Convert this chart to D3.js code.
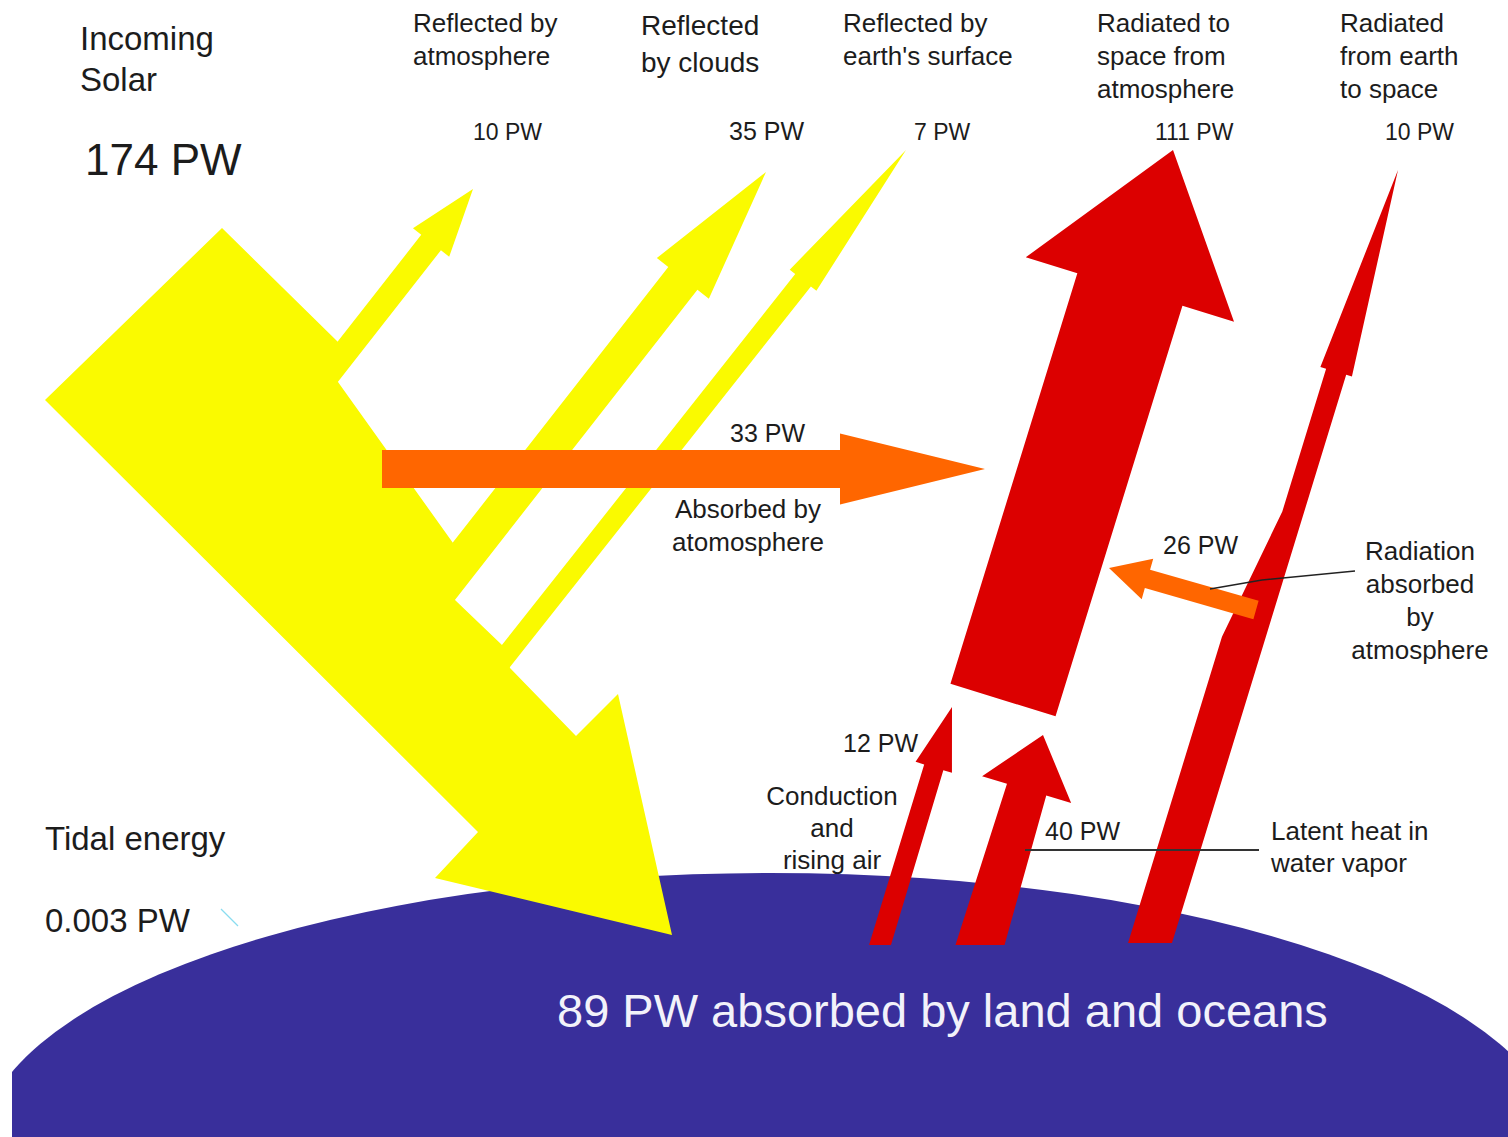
<!DOCTYPE html>
<html>
<head>
<meta charset="utf-8">
<script src="https://cdn.jsdelivr.net/npm/d3@7/dist/d3.min.js"></script>
<style>
html,body{margin:0;padding:0;background:#fff;}
svg{display:block;}
text{font-family:"Liberation Sans",Arial,Helvetica,sans-serif;fill:#1c1c1c;}
</style>
</head>
<body>
<div id="canvas"></div>
<script>
var width = 1508;
var height = 1137;

// energy flows (PW)
var flowKeys   = ["solar","reflAtm","reflCloud","reflSurf","absAtm","radAtm","radEarth","radAbs","conduction","latent","land","tidal"];
var flowValues = [174, 10, 35, 7, 33, 111, 10, 26, 12, 40, 89, 0.003];

// label texts
var titleLines   = ["Incoming","Solar"];
var headerKeys   = ["reflAtm","reflCloud","reflSurf","radAtm","radEarth"];
var headerLines  = [["Reflected by","atmosphere"],["Reflected","by clouds"],["Reflected by","earth's surface"],["Radiated to","space from","atmosphere"],["Radiated","from earth","to space"]];
var absAtmLines  = ["Absorbed by","atomosphere"];
var radAbsLines  = ["Radiation","absorbed","by","atmosphere"];
var condLines    = ["Conduction","and","rising air"];
var latentLines  = ["Latent heat in","water vapor"];
var tidalLabel   = "Tidal energy";
var landLabel    = "absorbed by land and oceans";

// ---- layout (drawing grid of the picture) ----
var sx = d3.scaleLinear().domain([0,1508]).range([0,width]);
var sy = d3.scaleLinear().domain([0,1137]).range([0,height]);

var kindColor = d3.scaleOrdinal()
	.domain(["shortwave","absorbed","longwave","earth"])
	.range(["#fafa00","#ff6600","#dc0000","#392f9b"]);

// earth disc
var earthCenter = [770,1150];
var earthRadius = [790,277];
var earthLeft = 12;

// incoming solar band outline
var solarBody = [[222,228],[338,342],[338,382],[453,543],[455,600],[502,645],[510,668],[576,736],[618,694],[672,935],[435,878],[478,832],[45,400]];

// arrows: tail centre, tip, shaft width, tail width, head width, head length
var arrowKeys  = ["reflAtm","reflCloud","reflSurf","absAtm","radAtm","radEarth","conduction","latent","radAbs"];
var arrowKind  = ["shortwave","shortwave","shortwave","absorbed","longwave","longwave","longwave","longwave","absorbed"];
var arrowTail  = [[307,401],[429,603],[491,675],[382,469],[1003,700],[1161,943],[880,945],[980,945],[1256,610]];
var arrowTip   = [[473,189],[766,172],[906,150],[985,469],[1173,150],[1398,170],[952,707],[1043,735],[1109,568]];
var arrowShaft = [25,37,20,38,110,21,20,41,19];
var arrowTailW = [25,37,20,38,110,42,21,47,19];
var arrowHeadW = [46,66,34,71,218,33,38,93,42];
var arrowHeadL = [68,135,166,145,146,211,63,57,40];
var arrowFlat  = [false,false,false,false,false,true,true,true,false];
// narrowing on one side only: [from, to, side]
var arrowNeck  = [null,null,null,null,null,[0.52,0.75,-1],null,null,null];

function arrowPoints(i){
	var T = arrowTail[i], P = arrowTip[i];
	var dx = P[0]-T[0], dy = P[1]-T[1];
	var len = Math.sqrt(dx*dx+dy*dy);
	var u = [dx/len, dy/len];
	var n = [-u[1], u[0]];
	var hl = arrowHeadL[i];
	var L = len - hl;
	var w = arrowShaft[i], wt = arrowTailW[i], nk = arrowNeck[i];
	function half(side, t){
		if(!nk) return (wt + (w-wt)*t)/2;
		if(side != nk[2]) return w/2;
		var wide = wt - w/2;
		if(t <= nk[0]) return wide;
		if(t >= nk[1]) return w/2;
		return wide + (w/2-wide)*(t-nk[0])/(nk[1]-nk[0]);
	}
	function at(t, side, h){
		return [T[0]+u[0]*L*t + side*n[0]*h, T[1]+u[1]*L*t + side*n[1]*h];
	}
	function tailCorner(side){
		var c = at(0, side, half(side,0));
		if(arrowFlat[i]){
			var s = (T[1]-c[1])/u[1];
			c = [c[0]+u[0]*s, c[1]+u[1]*s];
		}
		return c;
	}
	function edge(side){
		var pts = [tailCorner(side)];
		if(nk && side == nk[2]){
			pts.push(at(nk[0], side, half(side,nk[0])));
			pts.push(at(nk[1], side, half(side,nk[1])));
		}
		pts.push(at(1, side, half(side,1)));
		pts.push(at(1, side, arrowHeadW[i]/2));
		return pts;
	}
	return edge(-1).concat([P]).concat(edge(1).reverse());
}

// text positions
var titlePos = [80,50,41];                 // x, first baseline, line height
var solarValuePos = [85,175];
var headerPos = [[413,32],[641,35],[843,32],[1097,32],[1340,32]];
var headerSize = [26,28,26,26,26];
var headerLH = [33,37,33,33,33];
var topValueKeys = ["reflAtm","reflCloud","reflSurf","radAtm","radEarth"];
var topValueX = [473,729,914,1155,1385];
var topValueY = 140;
var midValueKeys = ["absAtm","radAbs","conduction","latent"];
var midValuePos = [[730,442],[1163,554],[843,752],[1045,840]];
var leaderRadAbs = [[1210,589],[1262,580],[1355,571]];
var leaderLatent = [[1025,850],[1259,850]];
var tidalMark = [[221,909],[238,926]];

function val(k){ return flowValues[flowKeys.indexOf(k)]; }
function pw(k){ return val(k) + " PW"; }

var svg = d3.select("#canvas").append("svg")
	.attr("width",width)
	.attr("height",height)
	.style("background","#fff");

var lineGen = d3.line().x(function(d){return sx(d[0]);}).y(function(d){return sy(d[1]);});
var shapeGen = d3.line().x(function(d){return sx(d[0]);}).y(function(d){return sy(d[1]);}).curve(d3.curveLinearClosed);

// earth
svg.append("clipPath").attr("id","earthClip")
	.append("rect")
	.attr("x",sx(earthLeft)).attr("y",0)
	.attr("width",width-sx(earthLeft)).attr("height",height);
svg.append("ellipse")
	.attr("clip-path","url(#earthClip)")
	.attr("cx",sx(earthCenter[0])).attr("cy",sy(earthCenter[1]))
	.attr("rx",sx(earthRadius[0])-sx(0)).attr("ry",sy(earthRadius[1])-sy(0))
	.style("fill",kindColor("earth"));

// incoming solar
svg.append("path")
	.attr("d",shapeGen(solarBody))
	.style("fill",kindColor("shortwave"));

// arrows, the 26 PW one last so it sits on top
var order = [0,1,2,3,4,5,6,7,8];
svg.selectAll("path.arrow")
	.data(order)
	.enter().append("path")
	.attr("class","arrow")
	.attr("d",function(i){return shapeGen(arrowPoints(i));})
	.style("fill",function(i){return kindColor(arrowKind[i]);});

// leader lines
svg.append("path").attr("d",lineGen(leaderRadAbs))
	.style("fill","none").style("stroke","#222").style("stroke-width",1.4);
svg.append("path").attr("d",lineGen(leaderLatent))
	.style("fill","none").style("stroke","#333").style("stroke-width",1.8);
svg.append("path").attr("d",lineGen(tidalMark))
	.style("fill","none").style("stroke","#8adcf0").style("stroke-width",1.2);

// text helpers
function block(lines, x, y, size, lh, anchor, fill){
	var t = svg.append("text")
		.attr("x",sx(x)).attr("y",sy(y))
		.style("font-size",size+"px")
		.style("text-anchor",anchor||"start");
	if(fill) t.style("fill",fill);
	lines.forEach(function(s,j){
		t.append("tspan").attr("x",sx(x)).attr("y",sy(y+j*lh)).text(s);
	});
	return t;
}

block(titleLines, titlePos[0], titlePos[1], 33, titlePos[2]);
block([pw("solar")], solarValuePos[0], solarValuePos[1], 44, 0);

headerKeys.forEach(function(k,i){
	block(headerLines[i], headerPos[i][0], headerPos[i][1], headerSize[i], headerLH[i]);
});
topValueKeys.forEach(function(k,i){
	block([pw(k)], topValueX[i], topValueY, k=="reflCloud"?25:23, 0);
});
midValueKeys.forEach(function(k,i){
	block([pw(k)], midValuePos[i][0], midValuePos[i][1], 25, 0);
});

block(absAtmLines, 748, 518, 26, 33, "middle");
block(radAbsLines, 1420, 560, 26, 33, "middle");
block(condLines, 832, 805, 26, 32, "middle");
block(latentLines, 1271, 840, 26, 32);
block([tidalLabel], 45, 850, 33, 0);
block([pw("tidal")], 45, 932, 33, 0);
block([val("land") + " PW " + landLabel], 557, 1027, 47, 0, "start", "#f2f2fa");
</script>
</body>
</html>
